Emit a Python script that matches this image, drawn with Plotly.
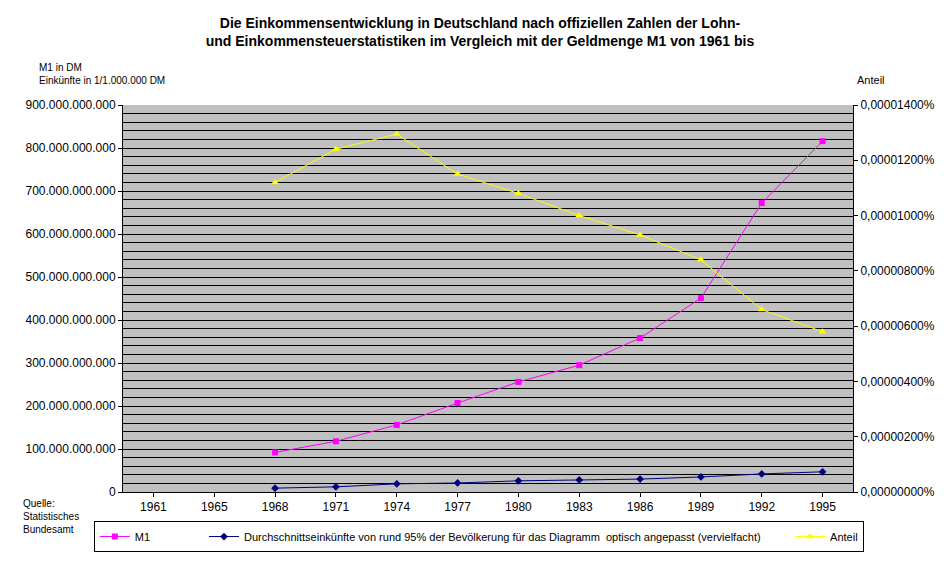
import plotly.graph_objects as go

years = ["1961", "1965", "1968", "1971", "1974", "1977", "1980", "1983", "1986", "1989", "1992", "1995"]
data_years = years[2:]
m1 = [92e9, 118e9, 156e9, 207e9, 256e9, 295e9, 358e9, 451e9, 672e9, 816e9]
income = [9e9, 12e9, 19e9, 21e9, 26e9, 28e9, 30e9, 35e9, 42e9, 47e9]
anteil = [11.2, 12.4, 12.95, 11.5, 10.8, 10.0, 9.3, 8.4, 6.6, 5.8]  # in 1e-6 %

right_vals = [0, 2, 4, 6, 8, 10, 12, 14]
right_text = ["0,%08d%%" % (v * 100) for v in right_vals]

fig = go.Figure()
fig.add_trace(go.Scatter(x=data_years, y=m1, name="M1                ", mode="lines+markers",
                         line=dict(color="#ff00ff", width=1),
                         marker=dict(symbol="square", size=6, color="#ff00ff")))
fig.add_trace(go.Scatter(x=data_years, y=income, mode="lines+markers",
                         name="Durchschnittseinkünfte von rund 95% der Bevölkerung für das Diagramm  optisch angepasst (vervielfacht)        ",
                         line=dict(color="#000080", width=1),
                         marker=dict(symbol="diamond", size=6, color="#000080")))
fig.add_trace(go.Scatter(x=data_years, y=anteil, name="Anteil", yaxis="y2", mode="lines+markers",
                         line=dict(color="#ffff00", width=1),
                         marker=dict(symbol="triangle-up", size=7, color="#ffff00")))

fig.update_layout(
    width=944, height=574, paper_bgcolor="white", plot_bgcolor="#c0c0c0",
    font=dict(family="Arial, Liberation Sans", size=12, color="black"),
    separators=",.",
    margin=dict(l=115, r=99, t=97, b=90),
    title=dict(text="<b>Die Einkommensentwicklung in Deutschland nach offiziellen Zahlen der Lohn-<br>und Einkommensteuerstatistiken im Vergleich mit der Geldmenge M1 von 1961 bis</b>",
               x=0.5, xanchor="center", y=0.965, font=dict(size=14)),
    xaxis=dict(type="category", categoryorder="array", categoryarray=years,
               range=[-0.5, 11.5], showgrid=False, showline=True, linecolor="black",
               ticks="outside", tickcolor="black", ticklen=4),
    yaxis=dict(range=[0, 900e9], dtick=100e9, tickformat=",.0f", showgrid=True,
               gridcolor="black", gridwidth=1,
               minor=dict(dtick=20e9, showgrid=True, gridcolor="black", gridwidth=1),
               showline=True, linecolor="black", ticks="outside", tickcolor="black", ticklen=4,
               zeroline=False),
    yaxis2=dict(overlaying="y", side="right", range=[0, 14], tickvals=right_vals, ticktext=right_text,
                showgrid=False, showline=True, linecolor="black", ticks="outside",
                tickcolor="black", ticklen=4, zeroline=False),
    legend=dict(orientation="h", x=-0.04, y=-0.075, xanchor="left", yanchor="top",
                bordercolor="black", borderwidth=1, font=dict(size=11)),
    showlegend=True,
)
fig.add_annotation(text="M1 in DM<br>Einkünfte in 1/1.000.000 DM", x=-0.118, y=1.115, xref="paper", yref="paper",
                   showarrow=False, align="left", xanchor="left", yanchor="top", font=dict(size=10))
fig.add_annotation(text="Anteil", x=1.003, y=1.085, xref="paper", yref="paper", showarrow=False,
                   xanchor="left", yanchor="top", font=dict(size=11))
fig.add_annotation(text="Quelle:<br>Statistisches<br>Bundesamt", x=-0.14, y=-0.01, xref="paper", yref="paper",
                   showarrow=False, align="left", xanchor="left", yanchor="top", font=dict(size=10))

fig.write_html("out.html")
